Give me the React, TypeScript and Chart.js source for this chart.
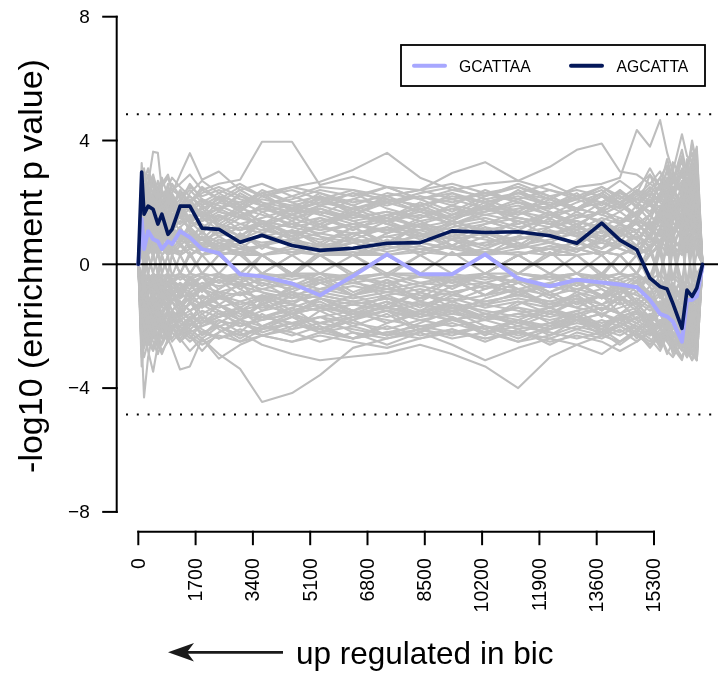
import React, { useEffect, useRef } from "react";
import { Chart, registerables } from "chart.js";

Chart.register(...registerables);

// x positions (number of sequences) shared by all word curves
const X_POS = [0, 100, 170, 290, 440, 580, 700, 880, 1000, 1240, 1530, 1890, 2390, 3020, 3670, 4560, 5390, 6370, 7380, 8360, 9310, 10290, 11270, 12210, 13010, 13750, 14290, 14790, 15180, 15480, 15690, 15860, 16130, 16280, 16430, 16570, 16740];

// highlighted words
const GCATTAA = [0, 1.46, 0.49, 1.07, 0.81, 0.74, 0.49, 0.74, 0.65, 1.07, 0.87, 0.49, 0.36, -0.32, -0.39, -0.62, -1.0, -0.38, 0.32, -0.32, -0.32, 0.32, -0.46, -0.71, -0.5, -0.59, -0.65, -0.74, -1.15, -1.6, -1.69, -1.85, -2.5, -1.15, -1.15, -1.04, -0.07];
const AGCATTA = [0, 2.98, 1.62, 1.88, 1.78, 1.3, 1.62, 0.97, 1.13, 1.88, 1.88, 1.17, 1.13, 0.71, 0.94, 0.61, 0.45, 0.52, 0.68, 0.70, 1.08, 1.03, 1.05, 0.92, 0.68, 1.33, 0.78, 0.47, -0.45, -0.72, -0.80, -1.26, -2.07, -0.83, -1.04, -0.77, 0];

// background words (grey), mostly enriched
const GRAY_POS = [
  [0, 2.4, 1.8, 2.5, 2.9, 2.3, 2.6, 2.9, 2.4, 2.6, 2.9, 2.4, 2.6, 2.73, 3.96, 3.96, 2.56, 2.83, 2.5, 2.1, 2.3, 2.0, 2.2, 1.9, 2.1, 1.8, 2.2, 1.9, 2.4, 2.0, 2.6, 2.2, 1.8, 2.5, 2.1, 2.8, 0],
  [0, 3.27, 2.2, 2.6, 3.64, 3.6, 2.4, 2.0, 2.3, 2.9, 3.59, 2.73, 3.0, 2.4, 2.6, 2.2, 2.5, 2.4, 2.2, 2.4, 2.1, 2.3, 2.0, 1.8, 2.1, 2.4, 2.0, 2.3, 1.9, 2.6, 2.2, 2.8, 2.4, 3.0, 2.4, 3.2, 0],
  [0, 2.0, 1.2, 1.6, 2.2, 1.8, 1.5, 1.9, 2.2, 1.7, 2.0, 2.4, 2.1, 2.5, 2.2, 2.5, 2.67, 3.05, 3.6, 2.8, 2.4, 2.2, 2.5, 2.1, 1.8, 2.2, 1.9, 1.6, 2.0, 1.7, 2.2, 1.9, 1.5, 2.1, 1.8, 2.3, 0],
  [0, 1.5, 2.6, 2.0, 1.6, 2.3, 1.9, 1.4, 1.8, 2.1, 1.7, 2.0, 1.8, 2.2, 1.9, 2.1, 2.4, 2.2, 2.5, 2.4, 2.95, 3.3, 2.7, 2.4, 2.1, 2.5, 2.2, 1.9, 2.3, 2.0, 1.7, 2.4, 1.9, 2.2, 2.6, 2.0, 0],
  [0, 1.0, 1.8, 2.4, 1.9, 1.5, 2.0, 2.3, 1.7, 1.9, 2.2, 1.8, 2.1, 1.9, 2.3, 2.0, 2.2, 1.9, 2.3, 2.1, 2.4, 2.6, 2.7, 3.15, 3.7, 3.9, 3.0, 2.9, 2.6, 2.4, 2.1, 2.7, 2.3, 2.0, 2.5, 2.8, 0],
  [0, 2.2, 1.6, 1.2, 1.7, 2.1, 1.8, 1.5, 2.0, 1.6, 1.9, 1.6, 1.8, 1.5, 1.9, 1.7, 2.0, 1.8, 2.1, 1.9, 2.2, 2.0, 2.3, 2.1, 2.5, 2.6, 2.8, 4.34, 3.8, 4.66, 3.6, 3.0, 4.2, 3.5, 3.3, 3.8, 0],
  [0, 2.8, 3.1, 2.2, 2.6, 1.9, 2.5, 2.8, 2.4, 2.2, 1.8, 2.1, 1.9, 1.6, 1.8, 1.5, 1.7, 1.4, 1.6, 1.8, 1.5, 1.7, 1.9, 1.6, 1.8, 2.0, 1.7, 2.1, 2.4, 2.8, 3.2, 2.6, 3.5, 2.9, 3.9, 3.1, 0],
  [0, 1.8, 1.0, 1.4, 1.2, 1.7, 1.3, 1.9, 1.5, 1.3, 1.6, 1.4, 1.7, 1.5, 1.3, 1.6, 1.8, 1.5, 1.7, 1.4, 1.6, 1.9, 1.7, 1.5, 1.8, 1.6, 1.4, 1.7, 1.9, 2.3, 1.8, 2.2, 2.7, 2.1, 2.5, 2.9, 0],
  [0, 0.9, 1.5, 2.1, 1.6, 1.1, 1.4, 1.2, 1.6, 1.9, 1.5, 1.7, 1.4, 1.8, 1.6, 1.3, 1.5, 1.2, 1.4, 1.6, 1.3, 1.5, 1.2, 1.4, 1.1, 1.5, 1.3, 1.6, 1.2, 1.8, 2.1, 1.6, 2.0, 2.4, 1.7, 2.2, 0],
  [0, 2.5, 1.3, 0.8, 1.2, 1.5, 1.0, 1.3, 1.1, 1.4, 1.2, 1.5, 1.3, 1.1, 1.4, 1.2, 1.0, 1.3, 1.5, 1.2, 1.4, 1.1, 1.3, 1.6, 1.4, 1.2, 1.5, 1.3, 1.6, 1.2, 1.7, 2.0, 1.5, 1.8, 2.3, 1.6, 0],
  [0, 1.2, 2.0, 1.5, 0.9, 1.3, 1.7, 1.0, 1.4, 1.1, 0.9, 1.2, 1.0, 1.3, 1.1, 0.9, 1.2, 1.0, 1.1, 0.9, 1.2, 1.4, 1.1, 0.9, 1.2, 1.0, 1.3, 1.1, 0.8, 1.4, 1.1, 1.5, 1.9, 1.3, 1.7, 2.1, 0],
  [0, 3.0, 2.3, 1.7, 2.0, 1.4, 1.1, 1.5, 1.2, 0.9, 1.1, 0.8, 1.0, 0.8, 0.9, 1.1, 0.9, 0.7, 0.9, 1.1, 0.8, 1.0, 0.8, 1.1, 0.9, 0.7, 1.0, 0.8, 1.2, 0.9, 1.4, 1.0, 1.3, 1.7, 1.2, 1.5, 0],
  [0, 0.6, 1.1, 0.8, 1.3, 0.9, 0.7, 1.0, 0.8, 1.1, 0.8, 1.0, 0.7, 0.9, 0.7, 0.8, 0.6, 0.8, 0.7, 0.9, 1.0, 0.8, 0.6, 0.8, 1.0, 0.8, 0.6, 0.9, 0.7, 1.1, 0.8, 1.2, 0.9, 1.4, 1.0, 1.3, 0],
  [0, 1.6, 0.8, 0.5, 0.9, 0.6, 1.0, 0.7, 0.5, 0.8, 0.6, 0.5, 0.7, 0.5, 0.6, 0.4, 0.6, 0.5, 0.7, 0.5, 0.6, 0.4, 0.6, 0.5, 0.7, 0.5, 0.8, 0.6, 0.9, 0.6, 1.0, 0.7, 1.2, 0.8, 1.1, 0.9, 0],
  [0, 0.4, 0.9, 0.3, 0.6, 0.3, 0.5, 0.3, 0.4, 0.3, 0.5, 0.3, 0.4, 0.3, 0.3, 0.4, 0.3, 0.3, 0.3, 0.4, 0.3, 0.3, 0.4, 0.3, 0.3, 0.4, 0.3, 0.5, 0.3, 0.6, 0.4, 0.8, 0.5, 0.7, 0.9, 0.6, 0],
  [0, 2.0, 1.3, 1.8, 2.4, 2.0, 1.6, 2.1, 1.8, 1.5, 1.2, 1.5, 1.8, 2.0, 1.7, 1.9, 2.1, 1.8, 2.0, 2.2, 1.9, 1.7, 2.0, 1.8, 2.2, 1.9, 2.3, 2.0, 1.7, 2.1, 2.5, 2.0, 2.4, 2.8, 2.2, 2.6, 0],
  [0, 1.4, 2.3, 1.9, 1.4, 1.9, 2.3, 1.8, 2.6, 2.2, 2.5, 2.2, 2.4, 2.1, 1.9, 2.2, 1.9, 2.1, 1.9, 2.2, 2.0, 2.3, 2.1, 2.4, 2.2, 2.0, 2.3, 2.1, 2.5, 2.2, 2.7, 2.3, 2.9, 2.5, 3.3, 2.7, 0],
  [0, 0.5, 0.9, 1.3, 1.0, 1.4, 1.2, 1.6, 1.3, 1.7, 1.4, 1.2, 1.5, 1.7, 1.4, 1.2, 1.4, 1.6, 1.3, 1.1, 1.3, 1.6, 1.4, 1.2, 1.5, 1.7, 1.5, 1.3, 1.0, 1.5, 1.9, 1.4, 1.8, 1.2, 1.6, 2.0, 0],
  [0, 2.6, 1.9, 2.3, 2.8, 2.4, 2.0, 2.4, 2.1, 1.7, 1.9, 1.6, 1.3, 1.1, 1.3, 1.0, 0.8, 1.0, 1.2, 1.0, 0.8, 0.6, 0.8, 1.0, 1.2, 0.9, 1.1, 1.3, 1.6, 1.9, 1.5, 1.8, 1.4, 2.0, 1.6, 1.3, 0],
  [0, 1.1, 0.6, 1.0, 0.7, 0.4, 0.7, 0.9, 1.2, 0.9, 1.2, 1.4, 1.6, 1.3, 1.5, 1.8, 1.6, 1.3, 1.1, 1.3, 1.6, 1.8, 1.5, 1.3, 1.0, 1.2, 0.9, 1.1, 1.4, 1.0, 1.3, 1.7, 1.1, 1.5, 1.2, 1.8, 0],
  [0, 0.3, 0.5, 0.8, 0.5, 0.8, 0.6, 0.4, 0.6, 0.4, 0.6, 0.8, 0.6, 0.4, 0.6, 0.8, 1.0, 0.8, 0.5, 0.7, 0.5, 0.7, 0.9, 0.7, 0.5, 0.7, 0.5, 0.3, 0.5, 0.8, 0.5, 0.3, 0.6, 0.4, 0.7, 0.5, 0],
  [0, 1.7, 1.2, 0.6, 0.3, -0.3, 0.3, 0.6, 0.3, -0.3, 0.3, 0.5, 0.8, 0.6, 0.3, -0.3, 0.3, 0.5, 0.3, -0.3, -0.5, -0.3, 0.3, 0.5, 0.7, 0.4, 0.3, -0.3, 0.3, 0.7, 1.0, 0.6, 0.3, 0.8, 1.1, 0.5, 0],
  [0, 2.2, 2.7, 3.1, 2.5, 2.0, 1.7, 2.2, 1.9, 2.3, 2.0, 2.3, 2.5, 2.2, 2.0, 1.8, 2.0, 2.3, 2.1, 1.9, 2.1, 1.8, 1.6, 1.9, 2.2, 2.0, 1.8, 2.2, 2.6, 3.0, 2.5, 3.3, 2.8, 3.1, 3.6, 3.0, 0],
  [0, 1.3, 0.7, 0.4, 0.7, 1.1, 0.8, 1.2, 0.9, 0.6, 0.9, 0.6, 0.9, 1.2, 1.0, 0.7, 0.5, 0.7, 0.9, 0.7, 0.9, 1.2, 1.0, 1.2, 1.4, 1.1, 0.8, 0.6, 0.9, 0.6, 0.9, 0.5, 0.8, 1.1, 0.7, 1.0, 0],
  [0, 0.8, 1.6, 1.1, 1.5, 1.2, 0.9, 1.2, 0.9, 1.2, 1.5, 1.8, 2.0, 1.8, 2.1, 1.9, 1.7, 1.5, 1.7, 1.5, 1.8, 1.6, 1.8, 2.0, 1.8, 1.6, 1.9, 2.1, 1.9, 1.6, 2.0, 2.3, 2.0, 2.6, 2.9, 2.4, 0],
  [0, 1.9, 1.4, 1.0, 0.7, 0.9, 0.6, 0.3, 0.5, 0.3, 0.5, 0.7, 0.5, 0.7, 0.9, 0.7, 0.5, 0.3, 0.5, 0.7, 0.5, 0.3, 0.5, 0.7, 0.5, 0.3, 0.6, 0.9, 0.6, 1.0, 0.7, 1.1, 1.5, 1.0, 1.3, 0.9, 0],
  [0, 2.9, 2.4, 2.0, 1.5, 1.8, 2.2, 2.5, 2.8, 2.5, 2.2, 1.9, 2.2, 2.0, 2.3, 2.5, 2.3, 2.0, 2.2, 2.4, 2.6, 2.3, 2.5, 2.2, 2.4, 2.2, 2.0, 2.4, 2.2, 1.8, 2.2, 1.6, 2.1, 2.5, 2.0, 2.4, 0],
  [0, 1.5, 1.0, 1.5, 1.1, 0.8, 1.1, 1.4, 1.1, 0.8, 1.0, 0.8, 0.6, 0.8, 1.1, 1.3, 1.1, 1.3, 1.0, 1.3, 1.1, 1.3, 1.5, 1.3, 1.6, 1.4, 1.1, 1.4, 1.2, 1.5, 1.2, 1.0, 1.4, 1.8, 1.4, 1.1, 0],
];

// background words (grey), mostly depleted
const GRAY_NEG = [
  [0, -2.5, -4.3, -3.0, -2.2, -2.6, -2.1, -2.5, -2.0, -2.3, -1.9, -2.2, -2.0, -1.8, -2.0, -1.7, -1.9, -1.6, -1.8, -2.0, -1.8, -1.6, -1.9, -2.1, -1.8, -2.0, -1.7, -1.9, -2.2, -1.8, -2.3, -2.0, -2.6, -2.2, -2.9, -2.4, 0],
  [0, -1.8, -1.2, -1.6, -2.0, -1.6, -1.9, -2.3, -2.0, -2.4, -2.8, -2.4, -2.9, -3.38, -4.45, -4.16, -3.58, -2.7, -2.4, -2.1, -2.3, -2.0, -2.2, -1.9, -2.1, -1.8, -2.0, -1.7, -2.0, -2.3, -1.9, -2.2, -2.6, -2.0, -2.4, -2.1, 0],
  [0, -1.5, -2.0, -2.8, -3.47, -2.6, -2.9, -2.4, -2.7, -3.4, -3.3, -2.4, -3.05, -2.6, -2.3, -2.5, -2.2, -2.0, -2.3, -2.1, -2.4, -2.2, -2.5, -2.3, -2.0, -2.2, -1.9, -2.1, -2.4, -2.8, -2.3, -2.7, -3.1, -2.5, -2.9, -2.2, 0],
  [0, -1.2, -0.7, -1.3, -1.8, -1.4, -2.0, -1.6, -1.9, -2.2, -1.8, -2.1, -2.4, -2.2, -2.6, -2.9, -3.1, -2.98, -2.87, -2.6, -2.9, -3.3, -4.0, -3.0, -2.6, -2.3, -2.5, -2.2, -2.6, -2.3, -2.8, -3.0, -2.5, -2.8, -2.4, -3.1, 0],
  [0, -2.0, -2.6, -2.2, -1.7, -2.1, -1.8, -1.5, -1.9, -1.6, -2.0, -1.7, -2.0, -2.3, -2.0, -2.2, -2.5, -2.2, -2.4, -2.2, -2.6, -3.1, -2.7, -2.4, -2.6, -2.9, -2.5, -2.2, -2.5, -2.1, -2.5, -2.2, -2.7, -3.0, -2.6, -2.3, 0],
  [0, -3.0, -2.2, -1.8, -2.3, -1.9, -1.5, -1.8, -1.5, -1.8, -1.6, -1.9, -1.6, -1.9, -2.1, -1.9, -1.7, -1.9, -2.1, -1.8, -2.0, -1.8, -2.1, -1.9, -1.7, -2.0, -2.2, -1.9, -1.6, -2.0, -2.4, -1.9, -2.3, -1.8, -2.2, -2.6, 0],
  [0, -0.9, -1.5, -1.1, -1.5, -1.9, -1.5, -1.2, -1.5, -1.2, -1.5, -1.3, -1.6, -1.4, -1.7, -1.5, -1.3, -1.6, -1.4, -1.7, -1.5, -1.3, -1.5, -1.7, -1.5, -1.3, -1.6, -1.4, -1.8, -1.5, -1.9, -1.6, -2.0, -1.6, -2.1, -1.8, 0],
  [0, -1.6, -1.0, -0.7, -1.0, -0.8, -1.1, -1.4, -1.1, -1.3, -1.1, -1.3, -1.1, -1.3, -1.1, -1.3, -1.5, -1.3, -1.1, -1.3, -1.1, -1.4, -1.2, -1.4, -1.2, -1.0, -1.3, -1.1, -1.4, -1.2, -1.5, -1.1, -1.6, -1.3, -1.8, -1.4, 0],
  [0, -2.2, -1.5, -1.9, -1.4, -1.1, -0.9, -1.2, -0.9, -1.1, -0.9, -1.1, -0.9, -1.0, -0.8, -1.0, -0.8, -1.0, -0.8, -1.0, -1.2, -1.0, -0.8, -1.0, -0.8, -1.0, -0.8, -1.0, -1.2, -0.9, -1.3, -1.0, -1.4, -1.1, -1.5, -1.2, 0],
  [0, -0.5, -1.0, -0.6, -0.9, -0.6, -0.8, -0.6, -0.8, -0.6, -0.8, -0.6, -0.7, -0.6, -0.8, -0.6, -0.8, -0.6, -0.8, -0.6, -0.7, -0.6, -0.8, -0.6, -0.8, -0.6, -0.8, -0.6, -0.9, -0.6, -1.0, -0.7, -1.1, -0.8, -1.2, -0.9, 0],
  [0, -0.4, -0.8, -0.3, -0.5, -0.3, -0.4, -0.3, -0.4, -0.3, -0.4, -0.3, -0.4, -0.3, -0.4, -0.3, -0.3, -0.4, -0.3, -0.3, -0.4, -0.3, -0.3, -0.4, -0.3, -0.4, -0.3, -0.4, -0.5, -0.3, -0.6, -0.4, -0.7, -0.5, -0.8, -0.5, 0],
  [0, -2.8, -2.0, -2.4, -1.9, -2.3, -2.6, -2.2, -2.5, -2.2, -2.5, -2.2, -2.4, -2.1, -2.3, -2.1, -1.9, -2.1, -2.3, -2.1, -1.9, -2.2, -2.0, -2.2, -2.4, -2.2, -2.0, -2.3, -2.1, -2.4, -2.0, -2.4, -2.8, -2.3, -2.7, -2.3, 0],
  [0, -1.3, -1.8, -1.4, -1.0, -1.3, -1.0, -1.4, -1.7, -1.5, -1.8, -1.5, -1.7, -1.5, -1.3, -1.6, -1.9, -1.7, -1.5, -1.8, -1.6, -1.8, -1.6, -1.4, -1.7, -1.9, -1.7, -1.5, -1.8, -2.1, -1.7, -2.1, -1.7, -2.2, -1.9, -2.5, 0],
  [0, -0.7, -0.4, -0.7, -1.1, -0.8, -1.1, -0.9, -1.2, -0.9, -1.2, -1.4, -1.1, -0.9, -1.1, -0.9, -1.1, -1.3, -1.1, -1.3, -1.5, -1.3, -1.1, -1.3, -1.1, -1.3, -1.1, -1.3, -1.0, -1.3, -1.1, -1.5, -1.2, -1.6, -1.3, -1.0, 0],
  [0, -1.9, -2.7, -2.3, -2.7, -2.2, -1.9, -2.1, -1.8, -2.0, -1.7, -1.9, -1.7, -1.5, -1.7, -1.9, -1.7, -1.5, -1.7, -1.5, -1.3, -1.5, -1.7, -1.5, -1.7, -1.4, -1.6, -1.8, -2.1, -1.8, -2.1, -2.4, -2.0, -2.5, -2.1, -2.7, 0],
  [0, -1.1, -0.6, -0.3, -0.6, -0.9, -0.6, -0.4, -0.6, -0.4, -0.6, -0.4, -0.6, -0.4, -0.6, -0.8, -0.6, -0.4, -0.6, -0.4, -0.6, -0.4, -0.6, -0.4, -0.6, -0.4, -0.6, -0.4, -0.6, -0.9, -0.6, -0.9, -0.6, -1.0, -0.7, -1.0, 0],
  [0, -1.4, -0.8, -0.3, 0.3, -0.3, -0.6, -0.3, 0.3, -0.3, -0.5, -0.3, 0.3, -0.3, -0.5, -0.7, -0.5, -0.3, 0.3, -0.3, -0.5, -0.3, 0.3, 0.5, 0.3, -0.3, -0.5, -0.3, -0.6, -0.9, -0.6, -0.3, -0.6, -0.9, -0.6, -0.3, 0],
  [0, -2.4, -1.8, -1.4, -1.8, -1.5, -1.2, -1.5, -1.2, -1.5, -1.3, -1.0, -1.3, -1.6, -1.8, -1.6, -1.4, -1.2, -1.4, -1.6, -1.8, -1.6, -1.8, -2.0, -1.8, -1.6, -1.8, -1.6, -1.9, -1.6, -2.1, -1.7, -2.2, -1.8, -2.4, -2.0, 0],
  [0, -3.3, -2.6, -2.0, -1.6, -1.3, -1.6, -1.3, -1.0, -0.8, -1.0, -0.8, -1.0, -1.2, -1.0, -1.2, -1.0, -1.2, -1.0, -0.8, -1.0, -1.2, -1.0, -1.2, -1.0, -0.8, -1.1, -0.9, -1.3, -1.0, -1.4, -1.1, -1.5, -1.2, -1.6, -1.3, 0],
  [0, -0.6, -1.3, -1.8, -1.4, -1.8, -2.1, -1.8, -2.1, -1.8, -2.1, -1.8, -2.0, -2.3, -2.1, -1.9, -2.1, -2.4, -2.2, -2.0, -2.2, -2.0, -2.3, -2.1, -1.9, -2.1, -2.3, -2.0, -2.3, -1.9, -2.2, -2.6, -2.2, -2.5, -2.1, -2.8, 0],
  [0, -1.0, -0.5, -0.9, -0.6, -0.9, -1.2, -0.9, -0.6, -0.9, -0.6, -0.8, -0.5, -0.7, -0.5, -0.7, -0.9, -0.7, -0.9, -1.1, -0.9, -0.7, -0.9, -0.7, -0.9, -1.1, -0.9, -0.7, -1.0, -0.7, -1.1, -0.8, -1.2, -0.9, -1.3, -1.0, 0],
  [0, -2.1, -1.6, -2.1, -2.5, -2.9, -2.5, -2.1, -2.4, -2.0, -2.3, -2.6, -2.3, -2.5, -2.3, -2.5, -2.3, -2.5, -2.7, -2.4, -2.2, -2.4, -2.2, -2.5, -2.3, -2.5, -2.8, -2.5, -2.2, -2.6, -2.3, -2.7, -3.0, -2.6, -2.9, -3.1, 0],
  [0, -0.3, -0.7, -1.2, -0.9, -1.3, -0.9, -1.2, -1.5, -1.2, -1.5, -1.2, -1.4, -1.2, -1.4, -1.2, -1.0, -1.2, -1.4, -1.2, -1.4, -1.2, -1.0, -1.2, -1.4, -1.6, -1.4, -1.2, -1.5, -1.3, -1.6, -1.3, -1.7, -1.4, -1.9, -1.5, 0],
  [0, -1.7, -2.2, -1.7, -2.1, -1.8, -2.2, -1.9, -1.6, -1.9, -2.2, -2.0, -1.8, -2.0, -1.8, -1.6, -1.4, -1.6, -1.4, -1.6, -1.8, -1.6, -1.4, -1.6, -1.8, -2.0, -1.8, -2.0, -2.3, -2.0, -2.4, -2.0, -2.5, -2.1, -2.6, -2.2, 0],
  [0, -1.5, -0.9, -1.3, -0.9, -0.6, -0.9, -0.7, -0.9, -1.2, -1.5, -1.2, -1.5, -1.8, -1.5, -1.3, -1.5, -1.3, -1.5, -1.3, -1.5, -1.8, -1.6, -1.8, -1.6, -1.4, -1.6, -1.9, -1.6, -2.0, -1.6, -1.9, -2.3, -1.8, -2.1, -1.7, 0],
  [0, -2.6, -3.0, -2.5, -2.8, -2.4, -2.8, -2.5, -2.2, -2.5, -2.2, -2.5, -2.2, -1.9, -2.2, -1.9, -2.2, -2.4, -2.2, -2.4, -2.1, -2.4, -2.2, -2.4, -2.1, -2.3, -2.0, -2.3, -2.6, -2.2, -2.5, -2.8, -2.4, -2.8, -3.1, -2.6, 0],
  [0, -0.8, -0.5, -0.8, -0.5, -0.3, -0.5, -0.7, -0.5, -0.7, -0.9, -0.7, -0.9, -0.7, -0.9, -1.1, -0.9, -1.1, -0.9, -0.7, -0.9, -0.7, -0.9, -0.7, -0.5, -0.7, -0.9, -0.7, -0.5, -0.8, -0.5, -0.8, -1.0, -0.7, -1.0, -0.7, 0],
];

// background words (grey), strongly zig-zagging ones
const GRAY_MIX = [
  [0, 1.2, -0.5, 0.8, 1.6, 0.6, 1.3, 0.4, 1.1, 1.8, 1.0, 0.5, 1.2, 0.7, 1.4, 0.9, 0.4, 1.0, 0.6, 1.3, 0.8, 0.3, 0.9, 1.5, 1.0, 0.5, 1.1, 0.6, 1.4, 0.5, 1.8, 0.9, 2.2, 1.2, 2.6, 1.5, 0],
  [0, -1.1, 0.6, -0.4, -1.3, -0.5, -1.2, -0.3, -0.9, -1.6, -0.8, -0.4, -1.1, -0.6, -1.3, -0.7, -0.3, -0.9, -0.5, -1.2, -0.7, -0.3, -0.8, -1.4, -0.9, -0.4, -1.0, -0.5, -1.3, -0.6, -1.7, -0.8, -2.1, -1.1, -2.4, -1.4, 0],
  [0, 2.1, 1.4, 2.4, 1.7, 2.5, 1.9, 2.6, 2.0, 1.5, 2.1, 1.6, 2.2, 1.8, 2.3, 1.7, 2.2, 1.6, 2.1, 1.7, 2.3, 1.8, 2.4, 1.9, 2.3, 1.7, 2.4, 1.8, 2.9, 2.1, 3.1, 2.3, 3.4, 2.4, 3.0, 2.2, 0],
  [0, -2.3, -1.5, -2.5, -1.8, -2.4, -1.7, -2.3, -1.6, -2.2, -1.7, -2.3, -1.8, -2.2, -1.6, -2.1, -1.5, -2.0, -1.6, -2.2, -1.7, -2.3, -1.8, -2.1, -1.6, -2.2, -1.7, -2.4, -1.8, -2.6, -2.0, -2.8, -2.1, -2.9, -2.2, -2.7, 0],
  [0, 0.7, 1.9, 1.1, 0.4, 1.2, 0.5, 1.3, 0.6, 1.2, 0.5, 1.1, 0.4, 1.0, 0.5, 1.1, 0.6, 1.2, 0.7, 1.3, 0.6, 1.2, 0.5, 1.1, 0.6, 1.3, 0.7, 1.4, 0.8, 1.7, 0.6, 2.0, 0.9, 2.4, 1.1, 2.0, 0],
  [0, -0.6, -1.7, -0.9, -0.3, -1.0, -0.4, -1.1, -0.5, -1.0, -0.4, -0.9, -0.3, -0.8, -0.4, -0.9, -0.5, -1.0, -0.6, -1.1, -0.5, -1.0, -0.4, -0.9, -0.5, -1.1, -0.6, -1.2, -0.7, -1.5, -0.5, -1.8, -0.8, -2.2, -1.0, -1.8, 0],
  [0, 1.5, 2.2, 1.6, 2.3, 1.5, 1.1, 1.7, 2.3, 1.8, 1.3, 1.9, 1.4, 1.9, 1.3, 1.8, 1.2, 1.7, 1.3, 1.8, 1.4, 1.9, 1.3, 1.7, 1.2, 1.8, 1.3, 1.9, 1.4, 2.2, 1.6, 2.5, 1.9, 2.7, 1.8, 2.3, 0],
  [0, -1.4, -2.1, -1.5, -2.2, -1.4, -1.0, -1.6, -2.2, -1.7, -1.2, -1.8, -1.3, -1.8, -1.2, -1.7, -1.1, -1.6, -1.2, -1.7, -1.3, -1.8, -1.2, -1.6, -1.1, -1.7, -1.2, -1.8, -1.3, -2.1, -1.5, -2.4, -1.8, -2.6, -1.7, -2.2, 0],
  [0, 0.3, 0.9, 0.4, 1.0, 0.3, 0.8, 0.3, 0.7, 0.3, 0.8, 0.3, 0.7, 0.3, 0.6, 0.3, 0.7, 0.3, 0.8, 0.3, 0.6, 0.3, 0.7, 0.3, 0.8, 0.3, 0.7, 0.3, 0.9, 0.4, 1.1, 0.5, 1.3, 0.6, 1.0, 0.4, 0],
  [0, -0.4, -1.0, -0.3, -0.8, -0.4, -0.9, -0.3, -0.6, -0.3, -0.7, -0.4, -0.8, -0.3, -0.7, -0.3, -0.6, -0.4, -0.7, -0.3, -0.8, -0.3, -0.6, -0.4, -0.7, -0.3, -0.8, -0.4, -1.0, -0.3, -1.2, -0.6, -1.1, -0.5, -0.9, -0.6, 0],
  [0, 2.3, 1.5, 1.9, 1.2, 1.6, 1.0, 1.4, 0.8, 1.1, 0.6, 0.9, 0.4, 0.7, 0.3, -0.3, 0.3, -0.4, -0.3, -0.6, -0.4, -0.8, -0.5, -0.9, -0.6, -1.1, -0.8, -1.3, -1.0, -1.6, -1.2, -1.9, -1.4, -2.2, -1.6, -1.9, 0],
  [0, -2.1, -1.4, -1.8, -1.1, -1.5, -0.9, -1.2, -0.7, -1.0, -0.5, -0.8, -0.3, -0.6, 0.3, -0.3, 0.4, 0.3, 0.6, 0.4, 0.8, 0.5, 0.9, 0.7, 1.1, 0.8, 1.3, 1.0, 1.6, 1.2, 1.9, 1.5, 2.3, 1.7, 2.6, 2.0, 0],
  [0, 1.0, 2.4, 2.9, 2.2, 1.6, 2.3, 1.9, 1.4, 2.0, 2.6, 2.1, 1.7, 2.3, 1.9, 1.4, 1.9, 2.3, 1.8, 1.5, 1.9, 2.4, 2.0, 1.6, 2.0, 2.3, 1.9, 1.5, 2.0, 2.5, 1.9, 2.4, 3.0, 2.3, 2.8, 3.3, 0],
  [0, -0.8, -2.0, -2.6, -2.2, -1.7, -2.4, -1.9, -1.5, -2.1, -2.4, -1.9, -1.5, -2.0, -1.7, -1.4, -2.0, -2.4, -1.9, -1.5, -1.7, -2.1, -1.8, -1.4, -1.8, -2.1, -1.7, -1.5, -2.1, -2.5, -1.9, -2.2, -2.7, -2.0, -2.5, -2.9, 0],
  [0, 1.9, 0.9, 0.5, 1.3, 0.8, 1.5, 1.0, 0.6, 1.2, 0.7, 1.3, 0.9, 0.5, 1.0, 1.4, 0.9, 0.5, 1.0, 1.4, 0.9, 0.6, 1.1, 0.7, 0.4, 0.9, 1.3, 0.8, 0.4, 1.1, 1.6, 0.9, 1.7, 0.8, 1.5, 0.9, 0],
  [0, -1.8, -0.8, -0.4, -1.1, -0.7, -1.4, -0.9, -0.5, -1.1, -0.6, -1.2, -0.8, -0.4, -0.9, -1.3, -0.8, -0.5, -1.1, -1.5, -1.0, -0.6, -1.0, -0.6, -0.3, -0.8, -1.2, -0.7, -0.4, -1.0, -1.5, -0.8, -1.6, -0.9, -1.4, -0.8, 0],
  [0, 2.7, 2.0, 1.4, 2.1, 2.7, 2.1, 1.6, 2.2, 1.7, 2.3, 2.7, 2.3, 1.9, 2.4, 2.0, 1.6, 2.1, 2.5, 2.1, 1.7, 2.2, 2.6, 2.2, 1.8, 2.3, 2.7, 2.3, 3.1, 2.5, 3.4, 2.7, 3.7, 2.9, 4.0, 3.2, 0],
  [0, -2.9, -2.2, -1.6, -2.2, -2.7, -2.0, -1.6, -2.1, -1.7, -2.3, -2.8, -2.2, -1.8, -2.3, -2.0, -1.7, -2.2, -2.6, -2.2, -1.8, -2.1, -2.5, -2.1, -1.7, -2.2, -2.6, -2.2, -2.7, -2.3, -2.9, -2.5, -3.0, -2.6, -3.1, -2.8, 0],
  [0, 0.5, 1.4, 0.8, 1.7, 1.2, 0.7, 1.4, 1.0, 1.6, 1.1, 0.6, 1.2, 1.6, 1.2, 0.8, 1.3, 1.7, 1.3, 0.9, 1.4, 1.0, 0.6, 1.2, 1.7, 1.3, 0.9, 1.5, 2.0, 1.4, 2.1, 1.5, 2.3, 1.6, 2.5, 1.8, 0],
  [0, -0.5, -1.1, -0.6, -1.4, -1.0, -0.5, -1.2, -0.8, -1.4, -1.1, -0.7, -1.3, -1.7, -1.3, -0.9, -1.4, -1.8, -1.3, -0.9, -1.2, -0.8, -0.5, -1.0, -1.4, -1.0, -0.7, -1.3, -1.7, -1.2, -1.8, -1.2, -2.0, -1.4, -2.1, -1.5, 0],
  [0, 1.6, 2.4, 1.8, 1.3, 1.7, 2.0, 1.6, 1.9, 1.5, 1.8, 2.1, 1.7, 1.5, 1.8, 1.6, 1.9, 1.6, 1.4, 1.7, 1.5, 1.8, 1.5, 1.3, 1.6, 1.4, 1.7, 1.3, 0.9, 1.8, 1.0, 2.3, 1.1, 2.7, 1.4, 3.0, 0],
  [0, -1.9, -2.3, -1.6, -1.2, -1.7, -2.2, -1.8, -2.1, -1.7, -1.5, -2.0, -1.7, -1.4, -1.7, -1.9, -2.1, -1.8, -1.5, -1.7, -1.4, -1.7, -1.9, -1.5, -1.8, -1.6, -1.9, -1.5, -1.1, -2.0, -1.3, -2.5, -1.4, -2.9, -1.6, -2.8, 0],
  [0, 0.8, 0.3, 0.7, 0.4, 0.9, 0.5, 0.8, 0.4, 0.7, 0.3, 0.6, 0.3, 0.5, 0.3, 0.6, 0.4, 0.7, 0.4, 0.6, 0.3, 0.5, 0.3, 0.6, 0.4, 0.8, 0.5, 0.3, -0.6, 0.8, -0.9, 1.2, -1.3, 1.5, -0.9, 1.8, 0],
  [0, -0.9, -0.4, -0.8, -0.3, -0.7, -0.4, -0.9, -0.5, -0.8, -0.4, -0.7, -0.4, -0.6, -0.3, -0.5, -0.3, -0.6, -0.4, -0.7, -0.4, -0.6, -0.3, -0.5, -0.3, -0.7, -0.4, -0.3, 0.6, -0.7, 1.0, -1.1, 1.4, -1.3, 1.0, -1.6, 0],
  [0, 1.1, 1.8, 1.3, 2.0, 1.4, 1.9, 1.5, 2.1, 1.6, 2.0, 1.5, 1.1, 1.5, 1.9, 1.5, 1.2, 1.6, 2.0, 1.7, 1.3, 1.7, 2.1, 1.7, 1.3, 1.7, 2.0, 1.6, 2.2, 2.8, 2.1, 3.0, 2.3, 3.4, 2.6, 3.7, 0],
  [0, -1.2, -1.9, -1.2, -1.8, -1.3, -2.0, -1.4, -1.9, -1.4, -1.8, -1.3, -1.0, -1.4, -1.8, -1.4, -1.1, -1.5, -1.9, -1.6, -1.2, -1.6, -2.0, -1.6, -1.2, -1.6, -1.9, -1.5, -2.0, -2.5, -1.9, -2.6, -2.0, -2.9, -2.3, -3.1, 0],
  [0, 2.4, 3.0, 2.5, 2.0, 2.4, 2.8, 2.2, 2.6, 2.1, 2.4, 2.0, 2.3, 2.6, 2.2, 2.4, 2.1, 2.4, 2.0, 2.3, 2.5, 2.1, 2.3, 2.6, 2.2, 2.5, 2.1, 2.5, 2.9, 2.5, 3.0, 2.4, 3.1, 2.6, 3.4, 2.7, 0],
  [0, -2.7, -2.0, -2.6, -2.1, -2.5, -2.0, -2.4, -2.0, -2.5, -2.1, -2.4, -2.0, -2.4, -2.0, -2.3, -2.0, -2.4, -2.0, -2.3, -2.1, -2.5, -2.1, -2.6, -2.2, -2.4, -2.1, -2.5, -2.1, -2.7, -2.2, -2.9, -2.3, -3.0, -2.4, -2.5, 0],
  [0, 0.6, 1.3, 1.8, 1.2, 0.7, 1.0, 0.6, 1.1, 0.7, 1.2, 0.8, 1.3, 0.9, 1.4, 0.9, 1.3, 0.8, 1.2, 0.8, 1.3, 0.9, 1.4, 0.9, 1.3, 0.8, 1.2, 0.8, 1.3, 0.7, 1.5, 0.8, 1.7, 0.9, 2.0, 1.2, 0],
  [0, -1.3, -0.7, -1.2, -1.7, -1.1, -0.7, -1.2, -0.8, -1.3, -0.9, -1.4, -1.0, -1.5, -1.1, -1.6, -1.1, -1.5, -1.0, -1.4, -0.9, -1.3, -0.9, -1.4, -1.0, -1.5, -1.0, -1.4, -0.9, -1.5, -1.0, -1.7, -1.1, -1.9, -1.2, -2.1, 0],
];

// background words (grey), further filling the central band
const GRAY_EXTRA = [
  [0, 1.3, 0.9, 1.7, 1.1, 1.9, 1.3, 0.8, 1.5, 1.9, 1.4, 1.0, 1.6, 1.1, 1.7, 1.2, 1.8, 1.4, 1.0, 1.5, 1.9, 1.4, 1.1, 1.6, 1.2, 1.8, 1.3, 1.7, 2.1, 1.5, 2.4, 1.6, 2.6, 1.9, 2.9, 2.2, 0],
  [0, -1.6, -1.1, -1.8, -1.2, -1.6, -1.0, -0.6, -1.2, -1.7, -1.2, -0.8, -1.3, -0.9, -1.5, -1.0, -1.4, -1.0, -0.7, -1.2, -1.6, -1.1, -0.8, -1.3, -1.0, -1.5, -1.1, -1.5, -1.9, -1.3, -2.1, -1.4, -2.3, -1.7, -2.6, -1.9, 0],
  [0, 2.0, 1.6, 2.2, 1.7, 1.3, 1.8, 2.2, 1.8, 2.3, 1.9, 1.5, 2.0, 2.4, 2.0, 1.6, 2.1, 1.7, 2.2, 1.8, 1.4, 1.9, 2.3, 1.9, 1.5, 2.0, 2.4, 2.0, 1.6, 2.3, 2.8, 2.2, 2.9, 2.3, 3.2, 2.6, 0],
  [0, -2.2, -1.7, -2.3, -1.8, -1.4, -1.9, -2.4, -2.0, -2.4, -2.0, -1.6, -2.1, -2.5, -2.1, -1.7, -2.2, -1.8, -2.3, -1.9, -1.5, -2.0, -2.4, -2.0, -1.6, -2.1, -2.5, -2.1, -1.7, -2.4, -2.0, -2.7, -2.2, -2.8, -2.3, -2.6, 0],
  [0, 0.9, 0.5, 1.1, 0.6, 1.2, 0.7, 1.1, 0.6, 1.0, 0.5, 0.9, 0.5, 1.0, 0.6, 1.1, 0.7, 1.2, 0.6, 1.0, 0.5, 0.9, 0.5, 1.0, 0.6, 1.1, 0.6, 1.0, 0.5, 1.2, 0.6, 1.4, 0.7, 1.6, 0.8, 1.4, 0],
  [0, -0.8, -0.4, -1.0, -0.5, -1.1, -0.6, -1.0, -0.5, -0.9, -0.4, -0.8, -0.5, -1.0, -0.6, -1.1, -0.6, -1.0, -0.5, -0.9, -0.5, -1.0, -0.6, -1.1, -0.6, -1.0, -0.5, -0.9, -0.4, -1.1, -0.6, -1.3, -0.7, -1.5, -0.8, -1.3, 0],
  [0, 1.7, 1.1, 1.4, 0.9, 1.5, 1.0, 1.6, 1.2, 0.8, 1.3, 1.7, 1.2, 0.9, 1.4, 1.0, 1.5, 1.1, 1.6, 1.2, 0.8, 1.3, 1.7, 1.3, 0.9, 1.4, 1.0, 1.5, 1.1, 1.8, 1.2, 2.0, 1.4, 2.2, 1.5, 1.9, 0],
  [0, -1.9, -1.3, -1.0, -1.5, -1.1, -1.7, -1.2, -0.9, -1.4, -1.8, -1.3, -0.9, -1.4, -1.0, -1.5, -1.2, -1.7, -1.3, -0.9, -1.4, -1.8, -1.3, -0.9, -1.3, -1.0, -1.6, -1.2, -1.8, -1.3, -2.1, -1.5, -2.3, -1.6, -2.0, -1.5, 0],
  [0, 2.5, 1.9, 2.3, 1.8, 2.2, 1.6, 2.0, 1.5, 1.9, 1.4, 1.8, 1.3, 1.7, 1.2, 1.6, 1.3, 1.8, 1.4, 1.9, 1.5, 2.0, 1.6, 2.1, 1.7, 2.2, 1.8, 2.3, 1.9, 2.6, 2.0, 2.9, 2.2, 3.1, 2.4, 2.9, 0],
  [0, -2.4, -2.0, -2.3, -1.6, -2.0, -1.6, -2.1, -1.5, -1.7, -1.2, -1.6, -1.3, -1.8, -1.3, -1.6, -1.1, -1.5, -1.2, -1.6, -1.3, -1.7, -1.4, -1.9, -1.5, -2.0, -1.6, -2.1, -1.9, -2.6, -2.1, -2.7, -2.0, -2.9, -2.2, -2.7, 0],
  [0, 0.4, 1.0, 1.5, 1.0, 0.6, 1.1, 1.6, 1.1, 0.7, 1.2, 0.8, 0.4, 0.9, 1.3, 0.8, 0.4, 0.9, 1.4, 1.0, 0.6, 1.1, 0.7, 0.3, 0.8, 1.2, 0.8, 0.4, 1.0, 1.5, 0.9, 1.6, 1.0, 1.9, 1.3, 1.0, 0],
  [0, -0.5, -1.2, -1.6, -1.1, -0.7, -1.2, -1.5, -1.0, -0.6, -1.1, -0.7, -0.4, -0.8, -1.2, -0.8, -0.4, -1.0, -1.4, -0.9, -0.5, -1.0, -0.6, -0.3, -0.9, -1.3, -0.9, -0.5, -1.1, -1.6, -1.0, -1.7, -1.1, -2.0, -1.3, -1.1, 0],
  [0, 1.8, 2.6, 2.1, 2.7, 2.2, 1.8, 2.3, 1.9, 2.4, 2.0, 2.5, 2.1, 1.7, 2.2, 1.8, 2.3, 1.9, 1.5, 2.0, 1.6, 2.1, 1.7, 2.2, 1.8, 2.3, 1.9, 2.4, 2.0, 2.6, 2.2, 3.0, 2.4, 3.3, 2.7, 3.5, 0],
  [0, -1.5, -2.4, -1.9, -2.4, -2.0, -1.6, -2.0, -1.7, -2.2, -1.8, -2.3, -1.9, -1.5, -2.0, -1.6, -2.1, -1.7, -1.5, -2.1, -1.7, -2.2, -1.8, -2.3, -1.8, -2.3, -1.9, -2.2, -1.8, -2.4, -2.0, -2.7, -2.2, -3.0, -2.4, -2.8, 0],
  [0, 0.6, 0.3, 0.5, 0.3, 0.6, 0.3, 0.5, 0.3, 0.6, 0.3, 0.5, 0.3, 0.4, 0.3, 0.5, 0.3, 0.4, 0.3, 0.5, 0.3, 0.4, 0.3, 0.5, 0.3, 0.4, 0.3, 0.6, 0.3, 0.7, 0.3, 0.9, 0.4, 1.1, 0.5, 0.8, 0],
  [0, -0.6, -0.3, -0.5, -0.3, -0.4, -0.3, -0.6, -0.3, -0.5, -0.3, -0.4, -0.3, -0.5, -0.3, -0.4, -0.3, -0.5, -0.3, -0.4, -0.3, -0.5, -0.3, -0.4, -0.3, -0.5, -0.3, -0.6, -0.3, -0.8, -0.4, -1.0, -0.4, -1.2, -0.6, -0.9, 0],
];

// background words (grey) that keep crossing the zero line
const GRAY_CROSS = [
  [0, 0.5, -0.4, 0.3, -0.3, 0.4, -0.3, 0.3, -0.4, 0.3, -0.3, 0.3, -0.3, 0.4, -0.3, 0.3, -0.3, 0.3, -0.4, 0.3, -0.3, 0.3, -0.3, 0.4, -0.3, 0.3, -0.3, 0.3, -0.4, 0.5, -0.5, 0.6, -0.6, 0.7, -0.5, 0.4, 0],
  [0, -0.4, 0.3, -0.3, 0.4, -0.3, 0.3, -0.3, 0.3, -0.3, 0.4, -0.3, 0.3, -0.3, 0.3, -0.4, 0.3, -0.3, 0.3, -0.3, 0.4, -0.3, 0.3, -0.3, 0.3, -0.4, 0.3, -0.3, 0.4, -0.4, 0.6, -0.5, 0.7, -0.6, 0.5, -0.4, 0],
  [0, 0.8, 0.3, -0.3, 0.3, 0.5, -0.3, 0.3, 0.5, 0.3, -0.3, 0.3, 0.6, 0.3, -0.3, 0.3, 0.5, 0.3, -0.3, 0.3, 0.6, 0.3, -0.3, 0.3, 0.5, 0.3, -0.3, 0.3, 0.6, -0.4, 0.8, -0.5, 0.9, 0.4, 1.0, 0.5, 0],
  [0, -0.7, -0.3, 0.3, -0.3, -0.5, 0.3, -0.3, -0.5, -0.3, 0.3, -0.3, -0.6, -0.3, 0.3, -0.3, -0.5, -0.3, 0.3, -0.3, -0.6, -0.3, 0.3, -0.3, -0.5, -0.3, 0.3, -0.3, -0.7, 0.4, -0.8, 0.5, -1.0, -0.4, -0.9, -0.5, 0],
];

// axes / reference values
const Y_TICKS = [-8, -4, 0, 4, 8];
const Y_TICK_LABELS = ["\u22128", "\u22124", "0", "4", "8"];
const X_TICKS = [0, 1700, 3400, 5100, 6800, 8500, 10200, 11900, 13600, 15300];
const X_TICK_LABELS = ["0", "1700", "3400", "5100", "6800", "8500", "10200", "11900", "13600", "15300"];
const THRESHOLD = 4.85;
const THRESHOLD_SPAN = [-365, 17021];
const X_RANGE = [-641, 17199];
const Y_RANGE = [-8.64, 8.54];
const LEGEND_LABELS = ["GCATTAA", "AGCATTA"];
const Y_TITLE = "-log10 (enrichment p value)";
const X_TITLE = "up regulated in bic";

const LIGHT = "#A7A7FF";
const DARK = "#04185A";
const GREY = "#BEBEBE";
const FONT = '"Liberation Sans", Arial, Helvetica, sans-serif';

const toPts = (vals: number[]) => vals.map((v, i) => ({ x: X_POS[i], y: v }));

const rAxesPlugin = {
  id: "rAxes",
  afterDraw(chart: any) {
    const ctx = chart.ctx as CanvasRenderingContext2D;
    const xs = chart.scales.x;
    const ys = chart.scales.y;
    const area = chart.chartArea;
    ctx.save();
    ctx.strokeStyle = "#000";
    ctx.fillStyle = "#000";
    ctx.lineWidth = 2;
    ctx.lineCap = "square";

    // y axis
    const ax = area.left;
    ctx.beginPath();
    ctx.moveTo(ax, ys.getPixelForValue(Y_TICKS[0]));
    ctx.lineTo(ax, ys.getPixelForValue(Y_TICKS[Y_TICKS.length - 1]));
    ctx.stroke();
    ctx.font = "19px " + FONT;
    ctx.textAlign = "right";
    ctx.textBaseline = "middle";
    Y_TICKS.forEach((v, i) => {
      const py = ys.getPixelForValue(v);
      ctx.beginPath();
      ctx.moveTo(ax - 13.5, py);
      ctx.lineTo(ax, py);
      ctx.stroke();
      ctx.fillText(Y_TICK_LABELS[i], ax - 27, py + 1);
    });

    // x axis
    const ay = area.bottom;
    ctx.beginPath();
    ctx.moveTo(xs.getPixelForValue(X_TICKS[0]), ay);
    ctx.lineTo(xs.getPixelForValue(X_TICKS[X_TICKS.length - 1]), ay);
    ctx.stroke();
    ctx.font = "19.5px " + FONT;
    X_TICKS.forEach((v, i) => {
      const px = xs.getPixelForValue(v);
      ctx.beginPath();
      ctx.moveTo(px, ay);
      ctx.lineTo(px, ay + 12.5);
      ctx.stroke();
      ctx.save();
      ctx.translate(px + 1, ay + 26.5);
      ctx.rotate(-Math.PI / 2);
      ctx.textAlign = "right";
      ctx.textBaseline = "middle";
      ctx.fillText(X_TICK_LABELS[i], 0, 0);
      ctx.restore();
    });

    // y title
    ctx.save();
    ctx.font = "34px " + FONT;
    ctx.translate(42, 266);
    ctx.rotate(-Math.PI / 2);
    ctx.textAlign = "center";
    ctx.textBaseline = "alphabetic";
    ctx.fillText(Y_TITLE, 0, 0);
    ctx.restore();

    // x title with arrow
    ctx.font = "31.5px " + FONT;
    ctx.textAlign = "left";
    ctx.textBaseline = "alphabetic";
    ctx.fillText(X_TITLE, 296, 664.3);
    ctx.fillStyle = "#1a1a1a";
    ctx.strokeStyle = "#1a1a1a";
    ctx.lineWidth = 2.8;
    ctx.lineCap = "butt";
    ctx.beginPath();
    ctx.moveTo(185, 652.3);
    ctx.lineTo(283, 652.3);
    ctx.stroke();
    ctx.beginPath();
    ctx.moveTo(168, 652.3);
    ctx.lineTo(194, 643);
    ctx.lineTo(187, 652.3);
    ctx.lineTo(194, 661.6);
    ctx.closePath();
    ctx.fill();

    // legend
    ctx.strokeStyle = "#000";
    ctx.lineWidth = 1.8;
    ctx.strokeRect(401, 45, 304, 41);
    ctx.lineCap = "round";
    ctx.lineWidth = 4;
    ctx.strokeStyle = LIGHT;
    ctx.beginPath();
    ctx.moveTo(414, 65.7);
    ctx.lineTo(445, 65.7);
    ctx.stroke();
    ctx.strokeStyle = DARK;
    ctx.beginPath();
    ctx.moveTo(571, 65.7);
    ctx.lineTo(602, 65.7);
    ctx.stroke();
    ctx.fillStyle = "#000";
    ctx.font = "15.7px " + FONT;
    ctx.textBaseline = "alphabetic";
    ctx.textAlign = "left";
    ctx.fillText(LEGEND_LABELS[0], 459, 71.7);
    ctx.fillText(LEGEND_LABELS[1], 616.5, 71.7);

    ctx.restore();
  },
};

export default function App() {
  const ref = useRef<HTMLCanvasElement | null>(null);

  useEffect(() => {
    if (!ref.current) return;
    const greyData = [...GRAY_POS, ...GRAY_NEG, ...GRAY_MIX, ...GRAY_EXTRA, ...GRAY_CROSS];
    const datasets: any[] = [
      {
        data: toPts(AGCATTA),
        borderColor: DARK,
        borderWidth: 3.6,
        borderJoinStyle: "round",
        borderCapStyle: "round",
        pointRadius: 0,
      },
      {
        data: toPts(GCATTAA),
        borderColor: LIGHT,
        borderWidth: 4,
        borderJoinStyle: "round",
        borderCapStyle: "round",
        pointRadius: 0,
      },
      {
        data: [
          { x: X_RANGE[0], y: 0 },
          { x: X_RANGE[1], y: 0 },
        ],
        borderColor: "#000",
        borderWidth: 2,
        pointRadius: 0,
      },
      {
        data: [
          { x: THRESHOLD_SPAN[0], y: THRESHOLD },
          { x: THRESHOLD_SPAN[1], y: THRESHOLD },
        ],
        borderColor: "#000",
        borderWidth: 2,
        borderDash: [2, 8.8],
        pointRadius: 0,
      },
      {
        data: [
          { x: THRESHOLD_SPAN[0], y: -THRESHOLD },
          { x: THRESHOLD_SPAN[1], y: -THRESHOLD },
        ],
        borderColor: "#000",
        borderWidth: 2,
        borderDash: [2, 8.8],
        pointRadius: 0,
      },
      ...greyData.map((vals) => ({
        data: toPts(vals),
        borderColor: GREY,
        borderWidth: 2.1,
        borderJoinStyle: "round",
        borderCapStyle: "round",
        pointRadius: 0,
      })),
    ];

    const chart = new Chart(ref.current, {
      type: "line",
      data: { datasets },
      options: {
        responsive: false,
        animation: false,
        devicePixelRatio: 1,
        events: [],
        layout: { padding: { left: 116.7, right: 0, top: 0, bottom: 143.3 } },
        scales: {
          x: { type: "linear", min: X_RANGE[0], max: X_RANGE[1], display: false },
          y: { type: "linear", min: Y_RANGE[0], max: Y_RANGE[1], display: false },
        },
        plugins: { legend: { display: false }, tooltip: { enabled: false } },
        elements: { point: { radius: 0 }, line: { tension: 0 } },
      },
      plugins: [rAxesPlugin],
    } as any);
    return () => chart.destroy();
  }, []);

  return (
    <div style={{ position: "absolute", left: 0, top: 0, width: 718, height: 675, background: "#fff" }}>
      <canvas ref={ref} width={718} height={675} style={{ display: "block" }} />
    </div>
  );
}
